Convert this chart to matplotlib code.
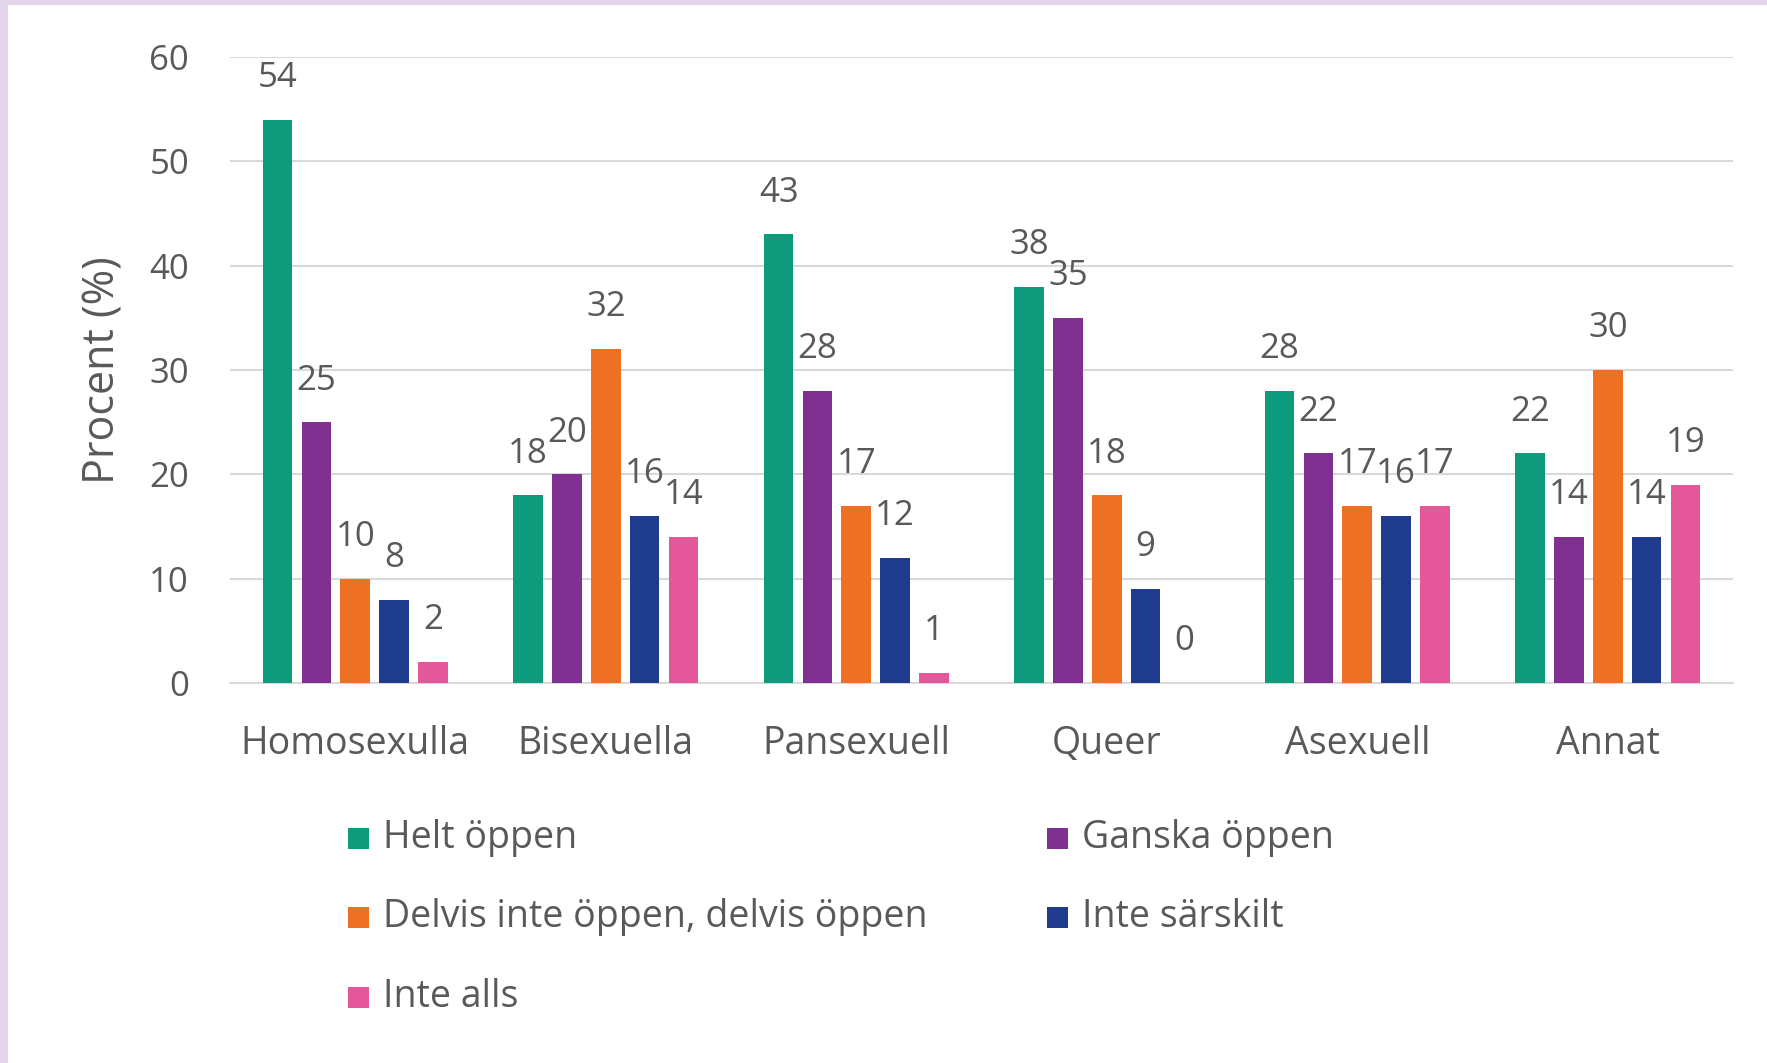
import matplotlib
matplotlib.use("Agg")
import matplotlib.pyplot as plt
import numpy as np
from matplotlib.patches import Rectangle

categories = ["Homosexulla", "Bisexuella", "Pansexuell", "Queer", "Asexuell", "Annat"]
series_names = ["Helt öppen", "Ganska öppen", "Delvis inte öppen, delvis öppen",
                "Inte särskilt", "Inte alls"]
helt = [54, 18, 43, 38, 28, 22]
ganska = [25, 20, 28, 35, 22, 14]
delvis = [10, 32, 17, 18, 17, 30]
inte_sarskilt = [8, 16, 12, 9, 16, 14]
inte_alls = [2, 14, 1, 0, 17, 19]
values = [helt, ganska, delvis, inte_sarskilt, inte_alls]
colors = ["#0E9B7B", "#7E3190", "#EE7024", "#1F3B8E", "#E4589A"]

FONT = "Open Sans"
TXT = "#595959"
FS_NUM = 25
FS_TXT = 27
W, H = 1767, 1063

fig = plt.figure(figsize=(W / 100, H / 100), dpi=100)
fig.patch.set_facecolor("white")
# light purple frame (top and left)
fig.patches.append(Rectangle((0, 1 - 5 / H), 1, 5 / H, transform=fig.transFigure,
                             facecolor="#E4D5EA", edgecolor="none", zorder=0))
fig.patches.append(Rectangle((0, 0), 8 / W, 1, transform=fig.transFigure,
                             facecolor="#E4D5EA", edgecolor="none", zorder=0))

left, right, y0, y60 = 230, 1733, 683, 57
ax = fig.add_axes([left / W, 1 - y0 / H, (right - left) / W, (y0 - y60) / H])
x = np.arange(len(categories))
pitch = 0.155
width = 0.118
for i, (name, vals, c) in enumerate(zip(series_names, values, colors)):
    pos = x + (i - 2) * pitch
    ax.bar(pos, vals, width=width, color=c, label=name, zorder=3)
    for p, v in zip(pos, vals):
        ax.annotate(f"{v}", (p, v), xytext=(0, 30), textcoords="offset points",
                    ha="center", va="center", fontsize=FS_NUM, color=TXT, family=FONT)

ax.set_ylim(0, 60)
ax.set_xlim(-0.5, len(categories) - 0.5)
ax.set_yticks(range(0, 61, 10))
ax.yaxis.grid(True, color="#D9D9D9", linewidth=1.5, zorder=0)
ax.set_axisbelow(True)
for s in ["top", "right", "left"]:
    ax.spines[s].set_visible(False)
ax.spines["bottom"].set_color("#D9D9D9")
ax.spines["bottom"].set_linewidth(1.5)
ax.tick_params(axis="both", length=0, labelcolor=TXT)
ax.tick_params(axis="y", pad=29.5, labelsize=FS_NUM)
ax.tick_params(axis="x", pad=30, labelsize=FS_TXT)
ax.set_xticks(x)
ax.set_xticklabels(categories)
for lab in ax.get_xticklabels() + ax.get_yticklabels():
    lab.set_family(FONT)

fig.text(103 / W, 1 - 370 / H, "Procent (%)", rotation=90, ha="center", va="center",
         fontsize=31, color=TXT, family=FONT)

# legend: (series index, square left px, text left px, row centre px)
legend_layout = [(0, 348, 383, 838), (1, 1047, 1082, 838),
                 (2, 348, 383, 917), (3, 1047, 1082, 917),
                 (4, 348, 383, 997)]
sq = 21
for k, sx, tx, ry in legend_layout:
    fig.patches.append(Rectangle((sx / W, 1 - (ry + sq / 2) / H), sq / W, sq / H,
                                 transform=fig.transFigure, facecolor=colors[k],
                                 edgecolor="none"))
    fig.text(tx / W, 1 - ry / H, series_names[k], ha="left", va="center",
             fontsize=FS_TXT, color=TXT, family=FONT)

fig.savefig("out.png", dpi=100, facecolor=fig.get_facecolor())
